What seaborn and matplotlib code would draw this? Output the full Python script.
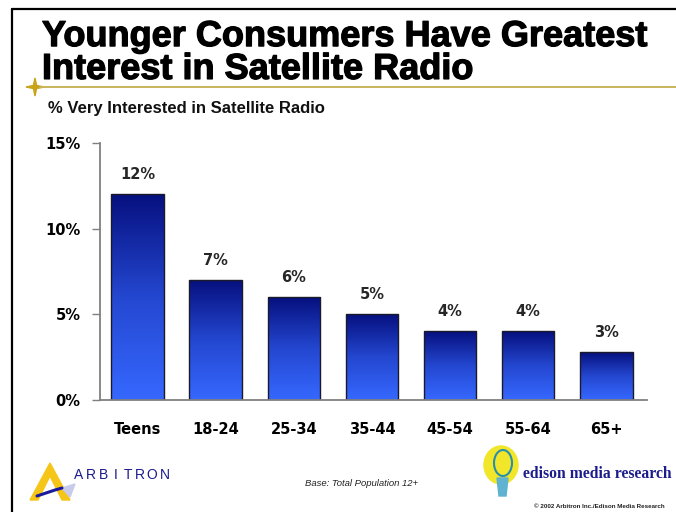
import numpy as np
import pandas as pd
import matplotlib
matplotlib.use("Agg")
import matplotlib.pyplot as plt
import matplotlib.patheffects as pe
from matplotlib.lines import Line2D
from matplotlib.patches import Polygon, Ellipse
import seaborn as sns

# Survey results: share "very interested" in satellite radio by age group
age_groups = ["Teens", "18-24", "25-34", "35-44", "45-54", "55-64", "65+"]
pct_interested = [12, 7, 6, 5, 4, 4, 2.8]
y_ticks = [0, 5, 10, 15]

title = "Younger Consumers Have Greatest\nInterest in Satellite Radio"
subtitle = "% Very Interested in Satellite Radio"
base_note = "Base: Total Population 12+"
copyright_note = "\u00a9 2002 Arbitron Inc./Edison Media Research"
brand_left = "ARBITRON"
brand_right = "edison media research"

sns.set_theme(style="white")
plt.rcParams["font.family"] = ["Liberation Sans", "DejaVu Sans"]
wide_font = ["DejaVu Sans"]

df = pd.DataFrame({"group": age_groups, "pct": pct_interested})

fig = plt.figure(figsize=(6.76, 5.12), dpi=100)
fig.patch.set_facecolor("white")
ax = fig.add_axes([100 / 676, 1 - 400 / 512, 547 / 676, 257 / 512])

sns.barplot(data=df, x="group", y="pct", ax=ax, width=0.67,
            color="#2a55e0", edgecolor="#1a1a2a", linewidth=1.0, saturation=1)

# vertical navy-to-blue gradient inside each bar
grad_cmap = matplotlib.colors.LinearSegmentedColormap.from_list(
    "bar_grad", ["#3668ff", "#2447d0", "#06107f"])
gradient = np.linspace(0, 1, 256).reshape(-1, 1)
for patch in ax.patches:
    x0, y0 = patch.get_x(), patch.get_y()
    w, h = patch.get_width(), patch.get_height()
    im = ax.imshow(gradient, cmap=grad_cmap, aspect="auto", origin="lower",
                   extent=[x0, x0 + w, y0, y0 + h], zorder=patch.get_zorder() - 0.1)
    im.set_clip_path(patch)
    patch.set_facecolor("none")
    patch.set_zorder(patch.get_zorder() + 0.2)

ax.set_xlim(-0.48, 6.52)
ax.set_ylim(0, 15)
ax.set_yticks(y_ticks)
ax.set_yticklabels([f"{v}%" for v in y_ticks], fontsize=10.5, fontweight="bold",
                   family=wide_font)
ax.set_xticks(range(len(age_groups)))
ax.set_xticklabels(age_groups, fontsize=10.5, fontweight="bold", family=wide_font)
ax.set_xlabel("")
ax.set_ylabel("")
ax.tick_params(axis="y", which="both", left=True, length=6, width=1,
               color="#808080", pad=8, labelcolor="black")
ax.tick_params(axis="x", bottom=False, pad=10, labelcolor="black")
for side in ["top", "right"]:
    ax.spines[side].set_visible(False)
for side in ["left", "bottom"]:
    ax.spines[side].set_visible(True)
    ax.spines[side].set_color("#808080")
    ax.spines[side].set_linewidth(1.3)
ax.grid(False)

for i, v in enumerate(pct_interested):
    ax.annotate(f"{v:.0f}%", (i, v), xytext=(0, 9), textcoords="offset points",
                ha="center", va="bottom", fontsize=10.5, fontweight="bold",
                family=wide_font)


def fx(x):
    return x / 676


def fy(y):
    return 1 - y / 512


# slide frame
fig.add_artist(Line2D([fx(12), 1.0], [fy(9), fy(9)], color="black", lw=1.6,
                      transform=fig.transFigure))
fig.add_artist(Line2D([fx(12), fx(12)], [0, fy(9)], color="black", lw=1.6,
                      transform=fig.transFigure))

# gold rule with star
fig.add_artist(Line2D([fx(40), 1.0], [fy(87), fy(87)], color="#c9b45a",
                      lw=1.4, transform=fig.transFigure))
sx, sy = 35, 87
star_pts = []
for k in range(8):
    ang = np.pi / 2 + k * np.pi / 4
    r = 9 if k % 2 == 0 else 2.2
    star_pts.append((fx(sx + r * np.cos(ang)), fy(sy - r * np.sin(ang))))
fig.add_artist(Polygon(star_pts, closed=True, color="#c8a418",
                       transform=fig.transFigure))

fig.text(fx(42), fy(53), title, fontsize=26.0, fontweight="bold",
         ha="left", va="center", linespacing=0.92, color="black",
         path_effects=[pe.withStroke(linewidth=0.9, foreground="black")])
fig.text(fx(48), fy(108), subtitle, fontsize=12, fontweight="bold",
         ha="left", va="center", color="#111111")

fig.text(fx(305), fy(483), base_note, fontsize=6.8, style="italic",
         ha="left", va="center", color="#222222")
fig.text(fx(534), fy(507), copyright_note, fontsize=4.5, fontweight="bold",
         ha="left", va="center", color="#222222")

# Arbitron mark
tri_outer = [(30, 500), (50, 463), (70, 500), (62, 500), (50, 476), (38, 500)]
fig.add_artist(Polygon([(fx(a), fy(b)) for a, b in tri_outer], closed=True,
                       color="#f5c518", transform=fig.transFigure))
fig.add_artist(Line2D([fx(37), fx(55), fx(62)], [fy(496), fy(490), fy(488)],
                      color="#1a1a9c", lw=2.2, transform=fig.transFigure))
fig.add_artist(Polygon([(fx(62), fy(488)), (fx(75), fy(484)), (fx(70), fy(497))],
                       closed=True, color="#c8ccea", transform=fig.transFigure))
for k, ch in enumerate(brand_left):
    fig.text(fx(79 + k * 12.2), fy(475), ch, fontsize=10, color="#1a1a8c",
             ha="center", va="center")

# Edison mark
fig.add_artist(Ellipse((fx(501), fy(465)), 34 / 676, 38 / 512, color="#f2e62a",
                       transform=fig.transFigure))
fig.add_artist(Ellipse((fx(503), fy(463)), 18 / 676, 26 / 512, fill=False,
                       ec="#2a8fa8", lw=1.5, transform=fig.transFigure))
fig.add_artist(Polygon([(fx(497), fy(478)), (fx(508), fy(478)), (fx(506), fy(496)),
                        (fx(499), fy(496))], closed=True, color="#5fb3d0",
                       transform=fig.transFigure))
fig.text(fx(523), fy(474), brand_right, fontsize=11.3,
         fontweight="bold", family=["Liberation Serif", "DejaVu Serif"],
         color="#1c1c8c", ha="left", va="center")

fig.savefig("out.png", dpi=100, facecolor="white")
